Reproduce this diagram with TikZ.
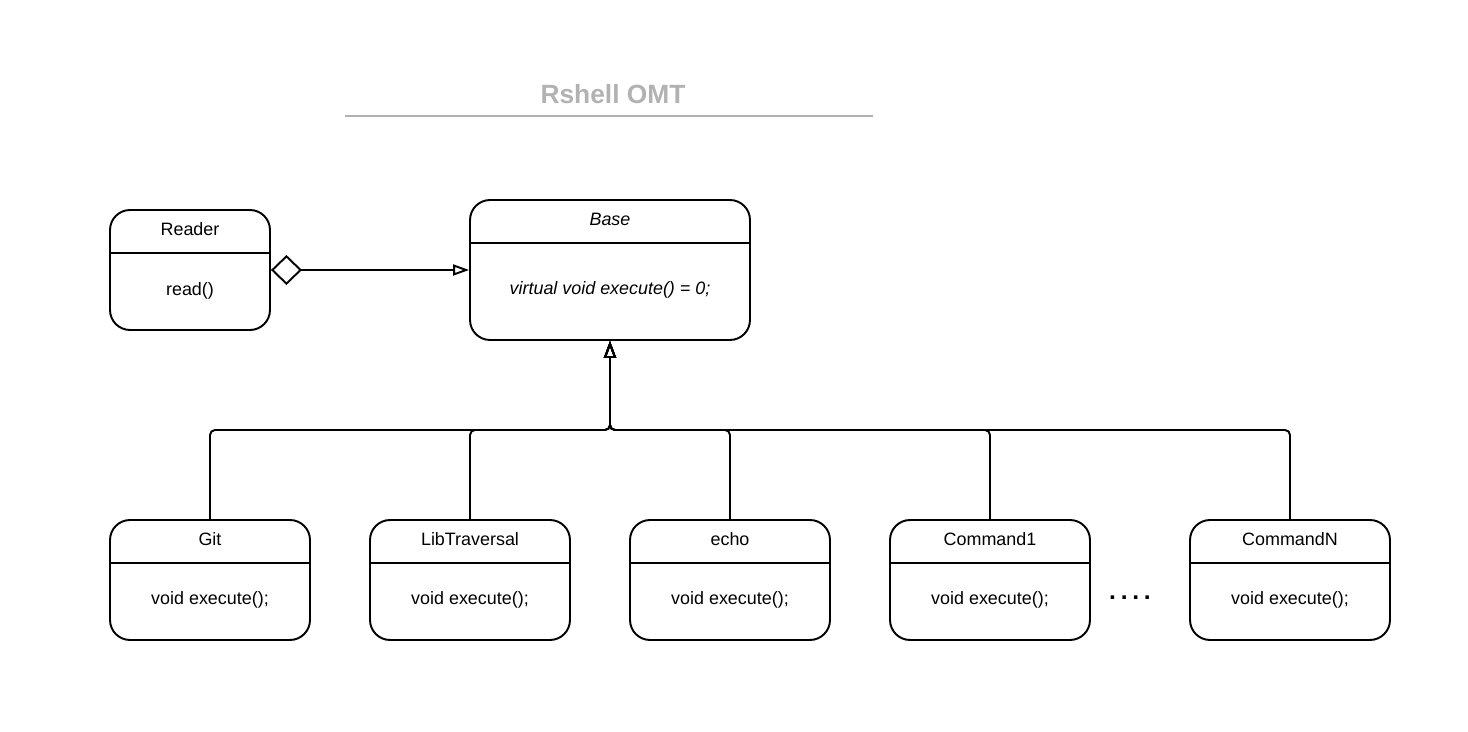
\documentclass[tikz,border=0pt]{standalone}
\usepackage{fontspec}
\setmainfont{Liberation Sans}
\usetikzlibrary{arrows.meta}
\definecolor{titlegray}{RGB}{178,178,178}

\begin{document}
\begin{tikzpicture}[x=0.02cm,y=-0.02cm,line width=1.1pt]
        \tikzstyle{every node} = [font=\fontsize{10.2}{12}\selectfont]
        \tikzstyle{umlbox} = [draw, rectangle, rounded corners=0.4cm, minimum width=4cm, minimum height=2.4cm]
        \tikzstyle{bus} = [rounded corners=0.1cm]
        \tikzstyle{isa} = [-{Triangle[open,length=0.34cm,width=0.24cm]}]
        \useasboundingbox (0,0) rectangle (1468,732);

        % title
        \node[text=titlegray, font=\fontsize{15}{18}\selectfont\bfseries] (title) at (613,94) {Rshell OMT};
        \draw[titlegray] (345,116) -- (873,116);

        % classes
        \node[umlbox, minimum width=3.2cm] (reader) at (190,270) {};
        \node[umlbox, minimum width=5.6cm, minimum height=2.8cm] (base) at (610,270) {};
        \node[umlbox] (git) at (210,580) {};
        \node[umlbox] (lib) at (470,580) {};
        \node[umlbox] (echo) at (730,580) {};
        \node[umlbox] (cmda) at (990,580) {};
        \node[umlbox] (cmdn) at (1290,580) {};
        \foreach \c in {reader,base,git,lib,echo,cmda,cmdn}
                \draw ([yshift=-0.88cm]\c.north west) -- ([yshift=-0.88cm]\c.north east);

        \node (readername) at (190,229) {Reader};
        \node (readerbody) at (190,291) {read()};
        \node (basename) at (610,219) {\itshape Base};
        \node (basebody) at (610,290) {\itshape virtual void execute() = 0;};
        \node (gitname) at (210,539) {Git};
        \node (gitbody) at (210,600) {void execute();};
        \node (libname) at (470,539) {LibTraversal};
        \node (libbody) at (470,600) {void execute();};
        \node (echoname) at (730,539) {echo};
        \node (echobody) at (730,600) {void execute();};
        \node (cmdaname) at (990,539) {Command1};
        \node (cmdabody) at (990,600) {void execute();};
        \node (cmdnname) at (1290,539) {CommandN};
        \node (cmdnbody) at (1290,600) {void execute();};
        \node[font=\fontsize{14}{16}\selectfont\bfseries] (dots) at (1130,598) {.\hspace{2.7pt}.\hspace{2.7pt}.\hspace{2.7pt}.};

        % links
        \draw[{Diamond[open,length=0.62cm,width=0.6cm]}-{Triangle[open,length=0.32cm,width=0.22cm]}] (reader.east) -- (base.west);
        \coordinate (j) at (610,430);
        \foreach \c in {git,lib,echo,cmda,cmdn}
                \draw[bus, isa] (\c.north) |- (j) -- (base.south);
\end{tikzpicture}
\end{document}
